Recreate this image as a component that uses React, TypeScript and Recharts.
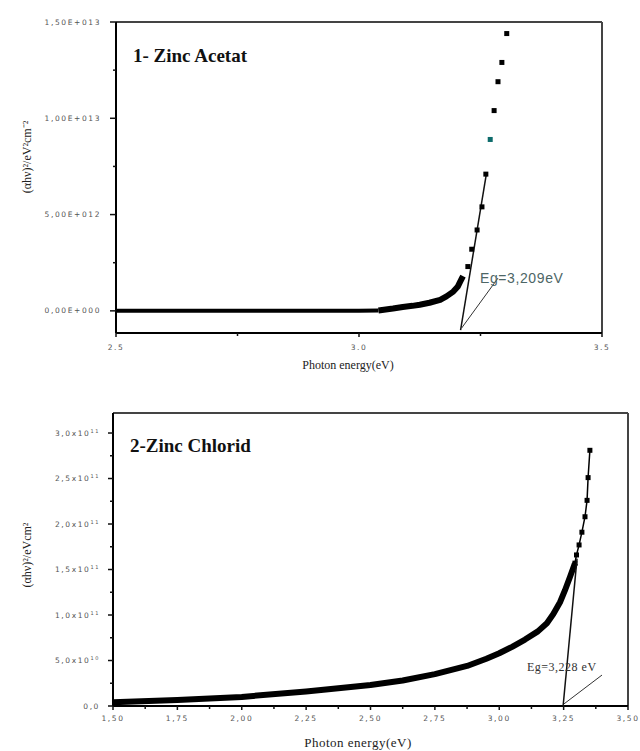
import React from 'react';
import { ComposedChart, Scatter, XAxis, YAxis, ReferenceLine } from 'recharts';

// ---------- Chart 1: Zinc Acetat ----------
const acetatFlatE = [2.5, 2.75, 3.0, 3.04];
const acetatFlatV = [0, 0, 0, 0.002e13];
const acetatKneeE = [3.04, 3.07, 3.09, 3.11, 3.125, 3.145, 3.167, 3.18, 3.194, 3.203, 3.208, 3.214];
const acetatKneeV = [0.002e13, 0.012e13, 0.02e13, 0.026e13, 0.032e13, 0.042e13, 0.057e13, 0.075e13, 0.1e13, 0.125e13, 0.15e13, 0.18e13];
const acetatPointsE = [3.224, 3.232, 3.243, 3.253, 3.261, 3.27, 3.278, 3.286, 3.294, 3.304];
const acetatPointsV = [0.23e13, 0.32e13, 0.42e13, 0.54e13, 0.71e13, 0.89e13, 1.04e13, 1.19e13, 1.29e13, 1.44e13];
const acetatFitE = [3.209, 3.262];
const acetatFitV = [-0.1e13, 0.71e13];
const acetatArrowE = [3.211, 3.286];
const acetatArrowV = [-0.09e13, 0.17e13];
const acetatYTicks = [0, 0.25e13, 0.5e13, 0.75e13, 1.0e13, 1.25e13, 1.5e13];
const acetatYLabels = ['0,00E+000', '', '5,00E+012', '', '1,00E+013', '', '1,50E+013'];
const acetatXTicks = [2.5, 2.75, 3.0, 3.25, 3.5];
const acetatXLabels = ['2.5', '', '3.0', '', '3.5'];

// ---------- Chart 2: Zinc Chlorid ----------
const chloridCurveE = [1.5, 1.75, 2.0, 2.25, 2.5, 2.625, 2.75, 2.875, 2.95, 3.0, 3.05, 3.1, 3.15, 3.185, 3.21, 3.236, 3.255, 3.275, 3.294];
const chloridCurveV = [0.04e11, 0.065e11, 0.1e11, 0.16e11, 0.23e11, 0.28e11, 0.35e11, 0.44e11, 0.52e11, 0.58e11, 0.65e11, 0.73e11, 0.82e11, 0.91e11, 1.01e11, 1.14e11, 1.27e11, 1.42e11, 1.57e11];
const chloridPointsE = [3.294, 3.3, 3.31, 3.321, 3.333, 3.341, 3.345, 3.352];
const chloridPointsV = [1.57e11, 1.66e11, 1.77e11, 1.91e11, 2.08e11, 2.26e11, 2.51e11, 2.81e11];
const chloridFitE = [3.248, 3.302];
const chloridFitV = [0, 1.62e11];
const chloridArrowE = [3.25, 3.399];
const chloridArrowV = [0.02e11, 0.34e11];
const chloridYTicks = [0, 0.25e11, 0.5e11, 0.75e11, 1.0e11, 1.25e11, 1.5e11, 1.75e11, 2.0e11, 2.25e11, 2.5e11, 2.75e11, 3.0e11];
const chloridYMant = ['0,0', '', '5,0x10', '', '1,0x10', '', '1,5x10', '', '2,0x10', '', '2,5x10', '', '3,0x10'];
const chloridYExp = ['', '', '10', '', '11', '', '11', '', '11', '', '11', '', '11'];
const chloridXTicks = [1.5, 1.625, 1.75, 1.875, 2.0, 2.125, 2.25, 2.375, 2.5, 2.625, 2.75, 2.875, 3.0, 3.125, 3.25, 3.375, 3.5];
const chloridXLabels = ['1,50', '', '1,75', '', '2,00', '', '2,25', '', '2,50', '', '2,75', '', '3,00', '', '3,25', '', '3,50'];

const pts = (xs: number[], ys: number[]) => xs.map((x, i) => ({ x, y: ys[i] }));

const TICK_FONT = 'DejaVu Sans, sans-serif';

const Square = (size: number, color = '#000') => (p: any) => {
  if (p.cx == null || p.cy == null) return <g />;
  const fill = p.payload && p.payload.cyan ? '#0d6b6b' : color;
  return <rect x={p.cx - size / 2} y={p.cy - size / 2} width={size} height={size} fill={fill} />;
};
const NoShape = () => <g />;

const makeYTick = (ticks: number[], mant: string[], exp: string[] | null, T: number, M: number, majorLen: number, minorLen: number) => (p: any) => {
  const idx = ticks.indexOf(p.payload.value);
  const label = idx >= 0 ? mant[idx] : '';
  const axisX = p.x + T + M;
  const len = label ? majorLen : minorLen;
  return (
    <g>
      <line x1={axisX - len} x2={axisX} y1={p.y} y2={p.y} stroke="#111" strokeWidth={1.5} />
      {label ? (
        <text x={p.x} y={p.y} dy="0.35em" textAnchor="end" fontSize={7.5} fontFamily={TICK_FONT} fill="#555" letterSpacing={1.6}>
          {label}
          {exp && exp[idx] ? (
            <tspan dy={-3} fontSize={5}>{exp[idx]}</tspan>
          ) : null}
        </text>
      ) : null}
    </g>
  );
};

const makeXTick = (ticks: number[], labels: string[], T: number, M: number, majorLen: number, minorLen: number, textOff: number) => (p: any) => {
  const idx = ticks.indexOf(p.payload.value);
  const label = idx >= 0 ? labels[idx] : '';
  const axisY = p.y - T - M;
  const len = label ? majorLen : minorLen;
  return (
    <g>
      <line x1={p.x} x2={p.x} y1={axisY} y2={axisY + len} stroke="#111" strokeWidth={1.5} />
      {label ? (
        <text x={p.x} y={axisY + textOff} dy="0.35em" textAnchor="middle" fontSize={7.5} fontFamily={TICK_FONT} fill="#555" letterSpacing={1.6}>
          {label}
        </text>
      ) : null}
    </g>
  );
};

const acetatPoints = pts(acetatPointsE, acetatPointsV).map((d, i) => ({ ...d, cyan: i === 5 }));

const ChartAcetat = () => (
  <ComposedChart width={640} height={375} margin={{ top: 22, right: 38, bottom: 12, left: 16 }}>
    <XAxis type="number" dataKey="x" domain={[2.5, 3.5]} ticks={acetatXTicks} interval={0} allowDataOverflow
      height={30} tickSize={4} tickMargin={4} tickLine={false} axisLine={{ stroke: '#000', strokeWidth: 2 }}
      tick={makeXTick(acetatXTicks, acetatXLabels, 4, 4, 4, 3, 14)} />
    <YAxis type="number" dataKey="y" domain={[-1.15e12, 1.5e13]} ticks={acetatYTicks} interval={0} allowDataOverflow
      width={100} tickSize={6} tickMargin={9} tickLine={false} axisLine={{ stroke: '#000', strokeWidth: 2 }}
      tick={makeYTick(acetatYTicks, acetatYLabels, null, 6, 9, 6, 3)} />
    <ReferenceLine y={1.5e13} stroke="#444" strokeWidth={2} />
    <ReferenceLine x={3.5} stroke="#444" strokeWidth={2} />
    <Scatter data={pts(acetatFlatE, acetatFlatV)} line={{ stroke: '#000', strokeWidth: 4 }} lineType="joint" shape={NoShape} isAnimationActive={false} />
    <Scatter data={pts(acetatKneeE, acetatKneeV)} line={{ stroke: '#000', strokeWidth: 6, strokeLinejoin: 'round' }} lineType="joint" shape={NoShape} isAnimationActive={false} />
    <Scatter data={pts(acetatFitE, acetatFitV)} line={{ stroke: '#111', strokeWidth: 1.5 }} lineType="joint" shape={NoShape} isAnimationActive={false} />
    <Scatter data={pts(acetatArrowE, acetatArrowV)} line={{ stroke: '#333', strokeWidth: 1 }} lineType="joint" shape={NoShape} isAnimationActive={false} />
    <Scatter data={acetatPoints} shape={Square(5)} isAnimationActive={false} />
  </ComposedChart>
);

const ChartChlorid = () => (
  <ComposedChart width={640} height={376} margin={{ top: 38, right: 12, bottom: 15, left: 13 }}>
    <XAxis type="number" dataKey="x" domain={[1.5, 3.5]} ticks={chloridXTicks} interval={0} allowDataOverflow
      height={30} tickSize={4} tickMargin={4} tickLine={false} axisLine={{ stroke: '#000', strokeWidth: 2 }}
      tick={makeXTick(chloridXTicks, chloridXLabels, 4, 4, 4, 3, 12)} />
    <YAxis type="number" dataKey="y" domain={[0, 3.22e11]} ticks={chloridYTicks} interval={0} allowDataOverflow
      width={100} tickSize={5} tickMargin={8} tickLine={false} axisLine={{ stroke: '#000', strokeWidth: 2 }}
      tick={makeYTick(chloridYTicks, chloridYMant, chloridYExp, 5, 8, 5, 3)} />
    <ReferenceLine y={3.22e11} stroke="#444" strokeWidth={2} />
    <ReferenceLine x={3.5} stroke="#444" strokeWidth={2} />
    <Scatter data={pts(chloridCurveE, chloridCurveV)} line={{ stroke: '#000', strokeWidth: 6, strokeLinejoin: 'round' }} lineType="joint" shape={NoShape} isAnimationActive={false} />
    <Scatter data={pts(chloridPointsE, chloridPointsV)} line={{ stroke: '#000', strokeWidth: 1.5 }} lineType="joint" shape={Square(5)} isAnimationActive={false} />
    <Scatter data={pts(chloridFitE, chloridFitV)} line={{ stroke: '#111', strokeWidth: 1.5 }} lineType="joint" shape={NoShape} isAnimationActive={false} />
    <Scatter data={pts(chloridArrowE, chloridArrowV)} line={{ stroke: '#333', strokeWidth: 1 }} lineType="joint" shape={NoShape} isAnimationActive={false} />
  </ComposedChart>
);

const serif = 'Liberation Serif, Times New Roman, serif';

export default function App() {
  return (
    <div style={{ position: 'absolute', left: 0, top: 0, width: 640, height: 751, background: '#fff' }}>
      <div style={{ position: 'absolute', left: 0, top: 0 }}>
        <ChartAcetat />
      </div>
      <div style={{ position: 'absolute', left: 0, top: 375 }}>
        <ChartChlorid />
      </div>
      <svg width={640} height={751} style={{ position: 'absolute', left: 0, top: 0, pointerEvents: 'none' }}>
        <text x={133} y={62} fontFamily={serif} fontWeight="bold" fontSize={19} fill="#111">1- Zinc Acetat</text>
        <text x={130} y={452} fontFamily={serif} fontWeight="bold" fontSize={19} fill="#111">2-Zinc Chlorid</text>
        <text x={348} y={369} textAnchor="middle" fontFamily={serif} fontSize={12} fill="#222">Photon energy(eV)</text>
        <text x={358} y={747} textAnchor="middle" fontFamily={serif} fontSize={13} fill="#222" letterSpacing={0.5}>Photon energy(eV)</text>
        <text x={480} y={283} fontFamily="Liberation Sans, Arial, sans-serif" fontSize={14} fill="#4d6666" letterSpacing={0.6}>Eg=3,209eV</text>
        <text x={527} y={671} fontFamily={serif} fontSize={12} fill="#333" letterSpacing={0.5}>Eg=3,228 eV</text>
        <text x={27} y={157} textAnchor="middle" dominantBaseline="central" transform="rotate(-90 27 157)" fontFamily={serif} fontSize={12} fill="#222">(αhν)²/eV²cm⁻²</text>
        <text x={27} y={555} textAnchor="middle" dominantBaseline="central" transform="rotate(-90 27 555)" fontFamily={serif} fontSize={12} fill="#222">(αhν)²/eVcm²</text>
      </svg>
    </div>
  );
}
